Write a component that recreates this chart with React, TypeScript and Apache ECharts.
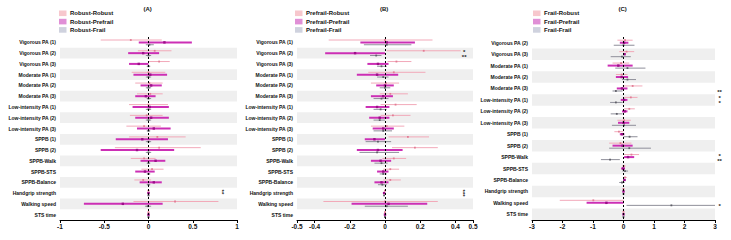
import React, { useEffect, useRef } from "react";
import * as echarts from "echarts";

// ---------- DATA ----------
const rowsAB = [
  "Vigorous PA (1)", "Vigorous PA (2)", "Vigorous PA (3)",
  "Moderate PA (1)", "Moderate PA (2)", "Moderate PA (3)",
  "Low-intensity PA (1)", "Low-intensity PA (2)", "Low-intensity PA (3)",
  "SPPB (1)", "SPPB (2)", "SPPB-Walk", "SPPB-STS", "SPPB-Balance",
  "Handgrip strength", "Walking speed", "STS time",
];
const rowsC = rowsAB.slice(1);

const namesA = ["Robust-Robust", "Robust-Prefrail", "Robust-Frail"];
const namesB = ["Prefrail-Robust", "Prefrail-Prefrail", "Prefrail-Frail"];
const namesC = ["Frail-Robust", "Frail-Prefrail", "Frail-Frail"];

// [estimate, lower, upper]
const robustRobust = [
  [-0.2, -0.54, 0.15], [0.07, -0.12, 0.26], [0.12, 0.0, 0.24],
  [0.0, -0.19, 0.19], [0.01, -0.15, 0.16], [0.02, -0.13, 0.16],
  [0.0, -0.22, 0.22], [-0.02, -0.21, 0.16], [-0.05, -0.25, 0.14],
  [0.1, -0.22, 0.42], [0.12, -0.38, 0.59], [-0.05, -0.2, 0.08],
  [0.04, -0.08, 0.17], [-0.06, -0.16, 0.03], [0.0, -0.01, 0.01],
  [0.3, -0.17, 0.79], [0.0, -0.01, 0.01],
];
const robustPrefrail = [
  [0.18, -0.11, 0.49], [-0.06, -0.23, 0.12], [-0.11, -0.22, 0.0],
  [0.02, -0.17, 0.21], [0.03, -0.09, 0.15], [-0.03, -0.15, 0.08],
  [0.015, -0.18, 0.23], [0.03, -0.15, 0.23], [0.06, -0.13, 0.25],
  [-0.07, -0.37, 0.22], [-0.13, -0.54, 0.29], [0.08, -0.09, 0.19],
  [-0.04, -0.15, 0.07], [0.06, -0.1, 0.15], [0.0, -0.01, 0.01],
  [-0.29, -0.73, 0.16], [0.0, -0.01, 0.01],
];
const robustFrail = [
  [0.01, -0.03, 0.06], [0.0, -0.03, 0.03], [0.0, -0.02, 0.02],
  [0.0, -0.03, 0.03], [0.0, -0.03, 0.03], [0.0, -0.02, 0.03],
  [0.0, -0.03, 0.03], [0.0, -0.03, 0.03], [0.0, -0.02, 0.02],
  [0.0, -0.03, 0.03], [0.0, -0.03, 0.03], [0.0, -0.02, 0.02],
  [0.0, -0.02, 0.02], [0.0, -0.02, 0.02], [0.0, -0.01, 0.01],
  [-0.01, -0.04, 0.03], [0.0, -0.01, 0.01],
];

const prefrailRobust = [
  [0.0, -0.32, 0.27], [0.22, 0.01, 0.43], [0.065, 0.015, 0.15],
  [0.05, -0.095, 0.23], [0.005, -0.08, 0.08], [0.03, -0.03, 0.13],
  [0.06, -0.025, 0.18], [0.045, -0.025, 0.145], [0.01, -0.08, 0.11],
  [0.13, 0.02, 0.25], [0.17, 0.04, 0.3], [0.05, -0.015, 0.12],
  [0.03, -0.01, 0.08], [0.03, -0.01, 0.09], [0.0, -0.005, 0.005],
  [0.0, -0.35, 0.3], [0.0, -0.005, 0.005],
];
const prefrailPrefrail = [
  [0.01, -0.14, 0.17], [-0.17, -0.34, 0.0], [-0.04, -0.1, 0.02],
  [-0.045, -0.16, 0.075], [0.0, -0.05, 0.05], [-0.01, -0.08, 0.045],
  [-0.045, -0.11, 0.025], [-0.03, -0.09, 0.025], [-0.01, -0.07, 0.05],
  [-0.06, -0.115, 0.0], [-0.04, -0.16, 0.1], [-0.025, -0.08, 0.035],
  [-0.01, -0.045, 0.02], [-0.02, -0.06, 0.02], [-0.005, -0.01, 0.0],
  [0.02, -0.19, 0.24], [0.0, -0.005, 0.005],
];
const prefrailFrail = [
  [0.01, -0.12, 0.15], [-0.05, -0.085, -0.02], [-0.02, -0.045, 0.01],
  [-0.01, -0.045, 0.02], [0.0, -0.03, 0.03], [-0.02, -0.065, 0.02],
  [-0.025, -0.065, 0.01], [-0.03, -0.065, 0.0], [-0.01, -0.065, 0.04],
  [-0.04, -0.11, 0.035], [-0.045, -0.145, 0.08], [-0.02, -0.06, 0.015],
  [-0.01, -0.03, 0.01], [-0.015, -0.04, 0.01], [-0.005, -0.01, 0.0],
  [0.01, -0.115, 0.13], [0.0, -0.005, 0.005],
];

const frailRobust = [
  [0.05, -0.2, 0.3], [0.1, -0.14, 0.35], [-0.08, -0.36, 0.19],
  [-0.06, -0.25, 0.13], [0.3, -0.03, 0.62], [0.24, 0.02, 0.46],
  [0.19, 0.02, 0.37], [0.02, -0.2, 0.24], [-0.15, -0.3, 0.0],
  [-0.1, -0.47, 0.26], [0.26, 0.02, 0.51], [0.01, -0.05, 0.07],
  [0.05, 0.0, 0.11], [0.0, -0.02, 0.02], [-0.99, -2.09, 0.02],
  [0.0, -0.02, 0.02],
];
const frailPrefrail = [
  [0.02, -0.12, 0.16], [0.03, 0.0, 0.07], [-0.17, -0.52, 0.3],
  [-0.06, -0.25, 0.15], [-0.05, -0.22, 0.13], [0.02, -0.09, 0.13],
  [0.04, -0.05, 0.13], [0.0, -0.18, 0.19], [-0.05, -0.12, 0.03],
  [-0.03, -0.36, 0.3], [0.15, 0.02, 0.35], [-0.01, -0.08, 0.05],
  [0.03, 0.0, 0.07], [0.0, -0.02, 0.02], [-0.56, -1.21, 0.0],
  [0.0, -0.02, 0.02],
];
const frailFrail = [
  [0.0, -0.32, 0.36], [-0.05, -0.42, 0.24], [0.13, -0.27, 0.72],
  [0.13, -0.05, 0.41], [-0.25, -0.36, -0.03], [-0.25, -0.44, -0.03],
  [-0.22, -0.42, -0.03], [0.02, -0.38, 0.41], [0.2, 0.0, 0.46],
  [0.19, -0.47, 0.9], [-0.44, -0.74, -0.12], [0.05, -0.04, 0.15],
  [-0.05, -0.14, 0.04], [0.0, -0.02, 0.02], [1.57, 0.1, 3.0],
  [0.0, -0.02, 0.02],
];

// significance marks: [row, slot (-1 pink, 0 magenta, 1 gray), text, stacked vertically]
const sigA: [number, number, string, boolean][] = [[14, -0.5, "**", true]];
const sigB: [number, number, string, boolean][] = [
  [1, -1, "*", false], [1, 1, "**", false], [14, 0, "***", true],
];
const sigC: [number, number, string, boolean][] = [
  [4, 1, "**", false], [5, -1, "*", false], [5, 1, "*", false],
  [10, -1, "*", false], [10, 1, "**", false], [14, 1, "*", false],
];
const sigXA = 0.84;
const sigXB = 0.45;
const sigXC = 3.15;

const ticksB = [-0.5, -0.4, -0.2, 0, 0.2, 0.4, 0.5];

// ---------- STYLE ----------
const FONT = "Liberation Sans";
const lineColors = ["#f2a9b9", "#cc2fb5", "#8f8f9a"];
const dotColors = ["#e27d95", "#9c0f88", "#5f5f68"];
const lineWidths = [1, 2, 1];
const swatchColors = ["#f7c7cd", "#e08fd6", "#cfd2de"];
const OFF = 0.22;
const offsets = [-OFF, 0, OFF];

const panels = [
  { title: "(A)", rows: rowsAB, names: namesA, data: [robustRobust, robustPrefrail, robustFrail],
    left: 60, width: 177, min: -1, max: 1, interval: 0.5, sig: sigA, sigX: sigXA, legendX: 59 },
  { title: "(B)", rows: rowsAB, names: namesB, data: [prefrailRobust, prefrailPrefrail, prefrailFrail],
    left: 297, width: 176, min: -0.5, max: 0.5, custom: ticksB, sig: sigB, sigX: sigXB, legendX: 295 },
  { title: "(C)", rows: rowsC, names: namesC, data: [frailRobust, frailPrefrail, frailFrail],
    left: 532, width: 183, min: -3, max: 3, interval: 1, sig: sigC, sigX: sigXC, legendX: 533 },
];

const TOP = 37;
const BOTTOM = 20;

function makeRender(g: number) {
  return (params: any, api: any) => {
    const row = api.value(0);
    const est = api.value(1);
    const lo = api.value(2);
    const hi = api.value(3);
    const band = api.size([0, 1])[1];
    const pLo = api.coord([lo, row]);
    const pHi = api.coord([hi, row]);
    const pE = api.coord([est, row]);
    const cs = params.coordSys;
    const x1 = Math.max(cs.x, pLo[0]);
    const x2 = Math.min(cs.x + cs.width, pHi[0]);
    const y = pE[1] + offsets[g] * band;
    const d = g === 1 ? 2.4 : 1.8;
    return {
      type: "group",
      children: [
        { type: "line", shape: { x1, y1: y, x2, y2: y },
          style: { stroke: lineColors[g], lineWidth: lineWidths[g] } },
        { type: "rect", shape: { x: pE[0] - d / 2, y: y - d / 2, width: d, height: d },
          style: { fill: dotColors[g] } },
      ],
    };
  };
}

function buildOption() {
  const grid: any[] = [];
  const xAxis: any[] = [];
  const yAxis: any[] = [];
  const series: any[] = [];
  const graphic: any[] = [];

  panels.forEach((p, i) => {
    grid.push({ left: p.left, width: p.width, top: TOP, bottom: BOTTOM, containLabel: false });
    const ax: any = {
      type: "value", gridIndex: i, min: p.min, max: p.max,
      axisLine: { show: true, lineStyle: { color: "#000", width: 1 } },
      axisTick: { show: true, length: 3, lineStyle: { color: "#000" } },
      axisLabel: { fontSize: 6.5, fontWeight: "bold", color: "#111", fontFamily: FONT, margin: 3 },
      splitLine: { show: false },
    };
    if (p.custom) {
      ax.axisLabel.customValues = p.custom;
      ax.axisTick.customValues = p.custom;
    } else {
      ax.interval = p.interval;
    }
    xAxis.push(ax);
    yAxis.push({
      type: "category", gridIndex: i, data: p.rows, inverse: true,
      axisLine: { show: false },
      axisTick: { show: false, interval: 0 },
      axisLabel: { interval: 0, fontSize: 5, fontWeight: "bold", color: "#111", fontFamily: FONT, margin: 4 },
      splitArea: { show: true, interval: 0, areaStyle: { color: ["rgba(255,255,255,0)", "#efefef"] } },
      splitLine: { show: false },
    });

    p.data.forEach((arr, g) => {
      series.push({
        type: "custom", name: p.names[g], xAxisIndex: i, yAxisIndex: i,
        renderItem: makeRender(g),
        encode: { x: [1, 2, 3], y: 0 },
        data: arr.map((v, r) => [r, v[0], v[1], v[2]]),
        z: 3 + (g === 1 ? 1 : 0),
        markLine: g === 0 ? {
          silent: true, symbol: "none", label: { show: false },
          lineStyle: { color: "#000", type: [2, 2], width: 1 },
          data: [{ xAxis: 0 }],
        } : undefined,
      });
    });

    const sig = p.sig;
    series.push({
      type: "custom", name: "sig" + i, xAxisIndex: i, yAxisIndex: i,
      data: sig.map((s) => [s[0], p.sigX]),
      encode: { x: 1, y: 0 },
      z: 6,
      renderItem: (params: any, api: any) => {
        const s = sig[params.dataIndex];
        const band = api.size([0, 1])[1];
        const pt = api.coord([p.sigX, s[0]]);
        const vertical = s[3];
        return {
          type: "text",
          x: vertical ? pt[0] - 1 : pt[0],
          y: pt[1] + s[1] * OFF * band + (vertical ? 0 : 1),
          rotation: vertical ? -Math.PI / 2 : 0,
          style: { text: s[2], fontSize: 6, fontWeight: "bold", fontFamily: FONT,
            fill: "#222", align: "center", verticalAlign: "middle" },
        };
      },
    });

    graphic.push({
      type: "text", left: p.left + p.width / 2 - 5, top: 6,
      style: { text: p.title, fontSize: 6, fontWeight: "bold", fontFamily: FONT, fill: "#111" },
    });
    p.names.forEach((n, g) => {
      const cy = 13.3 + g * 8.3;
      graphic.push({
        type: "rect", shape: { x: p.legendX, y: cy - 2.8, width: 7.5, height: 5.6 },
        style: { fill: swatchColors[g] },
      });
      graphic.push({
        type: "text", x: p.legendX + 11, y: cy,
        style: { text: n, fontSize: 6, fontWeight: "bold", fontFamily: FONT, fill: "#111",
          align: "left", verticalAlign: "middle" },
      });
    });
  });

  return { animation: false, backgroundColor: "#fff", grid, xAxis, yAxis, series, graphic };
}

export default function App() {
  const ref = useRef<HTMLDivElement>(null);
  useEffect(() => {
    if (!ref.current) return;
    const chart = echarts.init(ref.current, null, { renderer: "svg" });
    chart.setOption(buildOption() as any);
    return () => chart.dispose();
  }, []);
  return (
    <div
      ref={ref}
      style={{ position: "absolute", left: 0, top: 0, width: 731, height: 240, background: "#fff" }}
    />
  );
}
